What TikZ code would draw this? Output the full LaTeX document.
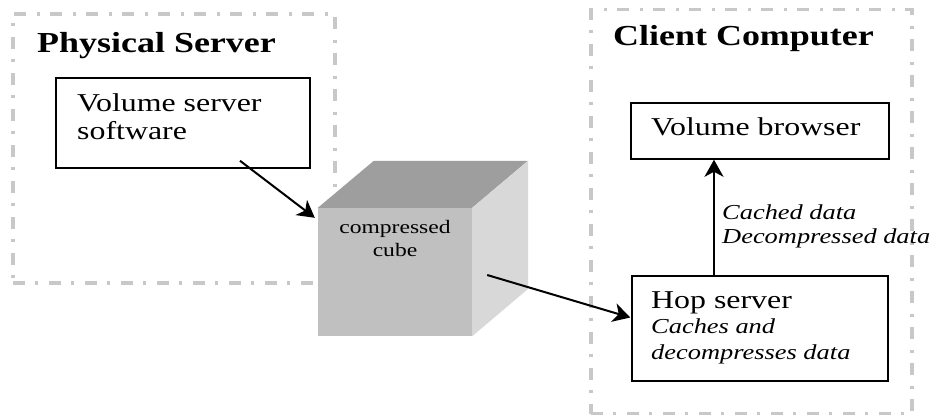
\documentclass[tikz,border=0pt]{standalone}
\usepackage{fontspec}
\setmainfont{Liberation Serif}[FakeStretch=1.24]
\usetikzlibrary{arrows.meta}
\definecolor{framegray}{HTML}{C8C8C8}
\definecolor{cubetop}{HTML}{9E9E9E}
\definecolor{cubefront}{HTML}{C0C0C0}
\definecolor{cubeside}{HTML}{D8D8D8}
\begin{document}
\begin{tikzpicture}[x=1pt,y=-1pt,
  group/.style={draw=framegray, line width=3.5pt, dash pattern=on 12pt off 10pt on 3pt off 11pt, inner sep=0pt},
  box/.style={draw, line width=1.5pt, inner sep=0pt},
  arr/.style={line width=2pt, -{Stealth[length=17pt,width=19pt,inset=5pt]}},
  title/.style={anchor=base west, inner sep=0pt, font=\fontsize{29}{32}\selectfont\bfseries},
  txt/.style={anchor=base west, inner sep=0pt, font=\fontsize{25.7}{28}\selectfont},
  note/.style={anchor=base west, inner sep=0pt, font=\fontsize{21.3}{26}\selectfont\itshape},
  cubetxt/.style={anchor=base, inner sep=0pt, font=\fontsize{19}{22}\selectfont},
]
\useasboundingbox (0,0) rectangle (938,416);

% dashed group frames
\node[group, minimum width=322pt, minimum height=269pt] (phys) at (174,148.5) {};
\node[group, minimum width=321pt, minimum height=404pt] (client) at (751.5,211.5) {};
\node[title] (physt) at (37,52) {Physical Server};
\node[title] (clientt) at (613,45) {Client Computer};

% boxes
\node[box, minimum width=254pt, minimum height=90pt] (vss) at (183,123) {};
\node[txt] (vss1) at (77,111) {Volume server};
\node[txt] (vss2) at (77,139) {software};

\node[box, minimum width=258pt, minimum height=56pt] (vb) at (760,131) {};
\node[txt] (vbt) at (651,135) {Volume browser};

\node[box, minimum width=256pt, minimum height=105pt] (hop) at (760,328.5) {};
\node[txt] (hopt) at (651,308) {Hop server};
\node[note] (hop1) at (651,333) {Caches and};
\node[note] (hop2) at (651,359) {decompresses data};

% the cube: front face as a node, top and side attached to it
\node[fill=cubefront, minimum width=154pt, minimum height=128pt, inner sep=0pt] (cube) at (395,272) {};
\fill[cubetop] (cube.north west) -- ++(56,-47) -- ++(154,0) -- (cube.north east) -- cycle;
\fill[cubeside] (cube.north east) -- ++(56,-47) -- ++(0,128) -- (cube.south east) -- cycle;
\node[cubetxt] (c1) at (395,233) {compressed};
\node[cubetxt] (c2) at (395,256) {cube};

% connectors
\draw[arr] ([shift={(57,-8)}]vss.south) -- ([shift={(-3,10)}]cube.north west);
\draw[arr] ([shift={(15,3)}]cube.east) -- ([shift={(-1,-11)}]hop.west);
\draw[arr] (hop.north -| 714,0) -- (vb.south -| 714,0);
\node[note] (l1) at (722,219) {Cached data};
\node[note] (l2) at (722,243) {Decompressed data};
\end{tikzpicture}
\end{document}
